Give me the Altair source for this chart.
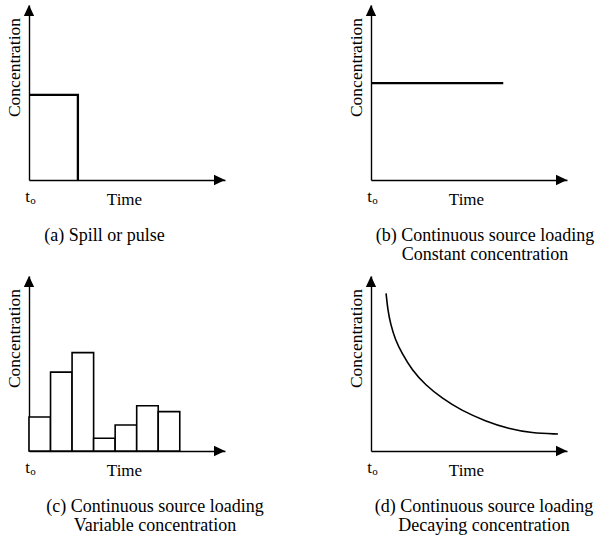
import altair as alt
import pandas as pd

FONT = "Liberation Serif"

# Shared axis extents (arbitrary units) and panel plot size in pixels
T_MAX = 9.1
C_MAX = 10.0
PANEL_W = 196
PANEL_H = 175

# (a) Spill or pulse: concentration steps up at t0, holds, then drops
pulse_t = [0.0, 2.27, 2.27]
pulse_c = [4.86, 4.86, 0.0]

# (b) Constant concentration
const_t = [0.0, 6.14]
const_c = [5.54, 5.54]

# (c) Variable concentration, one bar per loading interval
var_start = [0, 1, 2, 3, 4, 5, 6]
var_end = [1, 2, 3, 4, 5, 6, 7]
var_c = [1.94, 4.51, 5.62, 0.73, 1.49, 2.59, 2.25]

# (d) Decaying concentration
decay_t = [0.70, 0.78, 0.90, 1.13, 1.44, 1.90, 2.53, 3.30, 4.22, 5.31, 6.39, 7.47, 8.68]
decay_c = [9.01, 8.06, 7.30, 6.34, 5.58, 4.63, 3.77, 3.01, 2.30, 1.71, 1.27, 1.03, 0.97]

captions = [
    ["(a) Spill or pulse"],
    ["(b) Continuous source loading", "Constant concentration"],
    ["(c) Continuous source loading", "Variable concentration"],
    ["(d) Continuous source loading", "Decaying concentration"],
]
caption_dx = [-22.5, 16, 28, 15]

# Arrowhead outlines (tip at the symbol origin)
ARROW_UP = "M0,0L0.47,1L-0.47,1Z"
ARROW_RIGHT = "M0,0L-1,-0.47L-1,0.47Z"

x_axis = alt.Axis(
    title="Time", labels=False, ticks=False, grid=False, domain=True,
    domainColor="black", domainWidth=1.4,
    titleFont=FONT, titleFontSize=17, titleFontWeight="normal", titleColor="black",
    titleX=95, titleY=24, titleAlign="center", titleBaseline="alphabetic",
)
y_axis = alt.Axis(
    title="Concentration", labels=False, ticks=False, grid=False, domain=True,
    domainColor="black", domainWidth=1.4,
    titleFont=FONT, titleFontSize=17.5, titleFontWeight="normal", titleColor="black",
    titleAngle=270, titleX=-9.5, titleY=62, titleAlign="center", titleBaseline="alphabetic",
)


def xenc(field="t"):
    return alt.X(f"{field}:Q", scale=alt.Scale(domain=[0, T_MAX], nice=False, zero=False), axis=x_axis)


def yenc(field="c"):
    return alt.Y(f"{field}:Q", scale=alt.Scale(domain=[0, C_MAX], nice=False, zero=False), axis=y_axis)


def decorations():
    arrow_df = pd.DataFrame({"t": [0.0, T_MAX], "c": [C_MAX, 0.0], "shape": [ARROW_UP, ARROW_RIGHT]})
    arrows = alt.Chart(arrow_df).mark_point(
        filled=True, size=484, opacity=1, color="black", strokeWidth=0
    ).encode(x=xenc(), y=yenc(), shape=alt.Shape("shape:N", scale=None))
    origin_df = pd.DataFrame({"t": [0.0], "c": [0.0]})
    t_lbl = alt.Chart(origin_df).mark_text(
        text="t", font=FONT, fontSize=17, color="black", align="center",
        baseline="alphabetic", dx=-1.5, dy=22,
    ).encode(x=xenc(), y=yenc())
    o_lbl = alt.Chart(origin_df).mark_text(
        text="o", font=FONT, fontSize=11, color="black", align="center",
        baseline="alphabetic", dx=4, dy=24,
    ).encode(x=xenc(), y=yenc())
    return [arrows, t_lbl, o_lbl]


def panel(layers, idx):
    return alt.layer(*(layers + decorations())).properties(
        width=PANEL_W,
        height=PANEL_H,
        title=alt.TitleParams(
            text=captions[idx], orient="bottom", anchor="middle", frame="group",
            font=FONT, fontSize=18, fontWeight="normal", color="black",
            lineHeight=19, baseline="alphabetic", dx=caption_dx[idx], offset=34,
        ),
    )


pulse_df = pd.DataFrame({"t": pulse_t, "c": pulse_c, "k": range(len(pulse_t))})
pulse = alt.Chart(pulse_df).mark_line(color="black", strokeWidth=2.3).encode(
    x=xenc(), y=yenc(), order="k:Q"
)

const_df = pd.DataFrame({"t": const_t, "c": const_c})
const = alt.Chart(const_df).mark_line(color="black", strokeWidth=2.3).encode(x=xenc(), y=yenc())

var_df = pd.DataFrame({"t": var_start, "t1": var_end, "c": var_c, "c0": [0.0] * len(var_c)})
bars = alt.Chart(var_df).mark_rect(fill="white", stroke="black", strokeWidth=1.6).encode(
    x=xenc(), x2="t1:Q", y=yenc(), y2="c0:Q"
)

decay_df = pd.DataFrame({"t": decay_t, "c": decay_c})
decay = alt.Chart(decay_df).mark_line(color="black", strokeWidth=1.6, interpolate="basis").encode(
    x=xenc(), y=yenc()
)

chart = alt.concat(
    panel([pulse], 0), panel([const], 1), panel([bars], 2), panel([decay], 3),
    columns=2, spacing={"row": 96, "column": 146}, bounds="flush",
).configure_view(stroke=None).properties(
    padding={"left": 5, "top": 5, "right": 0, "bottom": 0}, background="white"
)

chart.save("out.html", embed_options={"renderer": "svg", "actions": False})
